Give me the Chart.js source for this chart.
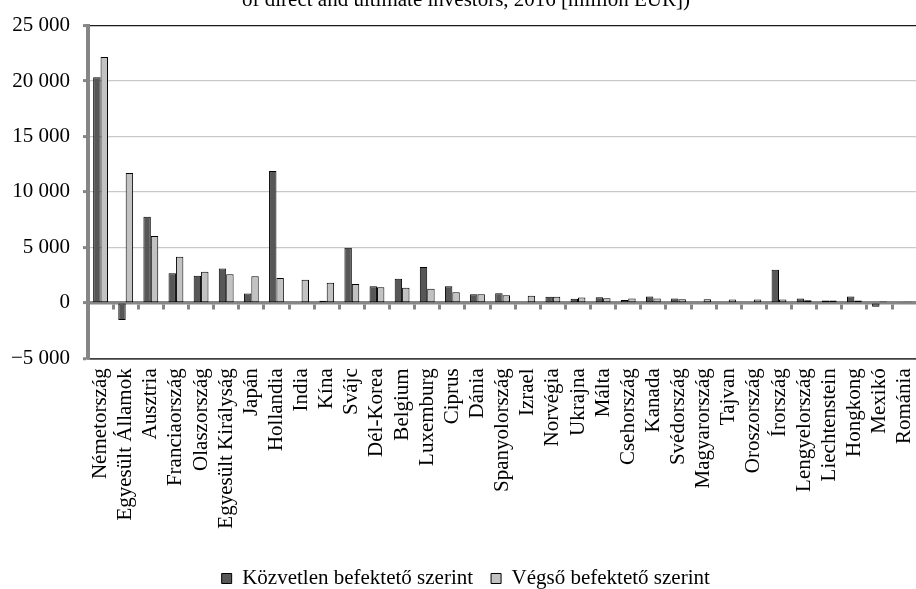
<!DOCTYPE html>
<html>
<head>
<meta charset="utf-8">
<script src="https://cdn.jsdelivr.net/npm/chart.js@4.4.0/dist/chart.umd.min.js"></script>
<style>
  html, body { margin: 0; padding: 0; background: #fff; overflow: hidden; width: 916px; height: 589px; }
  #c { position: absolute; left: 0; top: 0; }
</style>
</head>
<body>
<canvas id="c" width="940" height="599"></canvas>
<script>
// Investor countries, in the order shown on the category axis
const countries = [
  'Németország', 'Egyesült Államok', 'Ausztria', 'Franciaország', 'Olaszország',
  'Egyesült Királyság', 'Japán', 'Hollandia', 'India', 'Kína', 'Svájc', 'Dél-Korea',
  'Belgium', 'Luxemburg', 'Ciprus', 'Dánia', 'Spanyolország', 'Izrael', 'Norvégia',
  'Ukrajna', 'Málta', 'Csehország', 'Kanada', 'Svédország', 'Magyarország', 'Tajvan',
  'Oroszország', 'Írország', 'Lengyelország', 'Liechtenstein', 'Hongkong', 'Mexikó', 'Románia'
];

// FDI stock by direct investor (million EUR); null = no bar
const directInvestor = [
  20350, -1550, 7760, 2660, 2450,
  3100, 840, 11900, null, 200, 4960, 1490,
  2170, 3240, 1490, 770, 860, null, 540,
  360, 510, 250, 570, 390, null, null,
  null, 2980, 390, 210, 570, -350, 80
];

// FDI stock by ultimate investor (million EUR)
const ultimateInvestor = [
  22170, 11700, 6030, 4150, 2800,
  2570, 2390, 2240, 2090, 1820, 1700, 1400,
  1370, 1280, 950, 770, 680, 650, 540,
  480, 420, 400, 390, 330, 330, 300,
  300, 300, 240, 210, 210, 120, 100
];

const seriesNames = ['Közvetlen befektető szerint', 'Végső befektető szerint'];

const yTickValues = [-5000, 0, 5000, 10000, 15000, 20000, 25000];
const yTickLabels = ['−5 000', '0', '5 000', '10 000', '15 000', '20 000', '25 000'];

const headingText = 'of direct and ultimate investors, 2016 [million EUR])';

const SERIF = '"Liberation Serif", "Times New Roman", serif';
const AXIS_GREY = '#868686';

// Second line of the chart heading, drawn along the top edge
const headingPlugin = {
  id: 'heading',
  afterDraw(chart) {
    const ctx = chart.ctx;
    ctx.save();
    ctx.font = '21px ' + SERIF;
    ctx.fillStyle = '#000';
    ctx.textAlign = 'center';
    ctx.textBaseline = 'alphabetic';
    ctx.fillText(headingText, 466, 6);
    ctx.restore();
  }
};

function gridColor(c) {
  const v = c.tick && c.tick.value;
  if (v === 25000) return '#1a1a1a';
  if (v === -5000) return '#404040';
  if (v === 0) return 'rgba(0,0,0,0)';
  return '#c9c9c9';
}

new Chart(document.getElementById('c'), {
  type: 'bar',
  plugins: [headingPlugin],
  data: {
    labels: countries,
    datasets: [
      {
        label: seriesNames[0],
        data: directInvestor,
        backgroundColor: '#575757',
        borderColor: '#000',
        borderWidth: 1,
        borderSkipped: false
      },
      {
        label: seriesNames[1],
        data: ultimateInvestor,
        backgroundColor: '#c2c2c2',
        borderColor: '#000',
        borderWidth: 1,
        borderSkipped: false
      }
    ]
  },
  options: {
    responsive: false,
    animation: false,
    events: [],
    layout: { padding: { left: 2, right: 10.5, top: 23.3, bottom: 0 } },
    datasets: { bar: { barPercentage: 1.0, categoryPercentage: 0.59 } },
    plugins: {
      title: { display: false },
      tooltip: { enabled: false },
      legend: {
        position: 'bottom',
        labels: {
          font: { family: SERIF, size: 21 },
          color: '#000',
          boxWidth: 10,
          boxHeight: 10,
          padding: 18
        }
      }
    },
    scales: {
      x: {
        type: 'category',
        offset: true,
        grid: { display: false, drawTicks: false },
        border: { display: true, color: '#404040', width: 1.5 },
        ticks: {
          autoSkip: false,
          maxRotation: 90,
          minRotation: 90,
          padding: 10,
          color: '#000',
          font: { family: SERIF, size: 21 }
        },
        afterFit(scale) { scale.height = 191.7; }
      },
      // zero line with the category separators hanging below it
      x2: {
        type: 'category',
        labels: countries,
        position: { y: 0 },
        offset: true,
        grid: {
          offset: true,
          display: true,
          drawOnChartArea: false,
          drawTicks: true,
          tickLength: 5,
          tickColor: AXIS_GREY,
          tickWidth: 3
        },
        border: { display: true, color: AXIS_GREY, width: 3.5 },
        ticks: { display: false }
      },
      y: {
        min: -5000,
        max: 25000,
        ticks: {
          stepSize: 5000,
          padding: 13,
          color: '#000',
          font: { family: SERIF, size: 21 },
          callback: (value) => {
            const i = yTickValues.indexOf(value);
            return i >= 0 ? yTickLabels[i] : '';
          }
        },
        grid: {
          color: gridColor,
          lineWidth: (c) => (c.tick && (c.tick.value === -5000) ? 1.5 : 1.2),
          tickColor: AXIS_GREY,
          tickWidth: 3,
          tickLength: 5
        },
        border: { display: true, color: AXIS_GREY, width: 4 },
        afterFit(scale) { scale.width = 86; }
      }
    }
  }
});
</script>
</body>
</html>
